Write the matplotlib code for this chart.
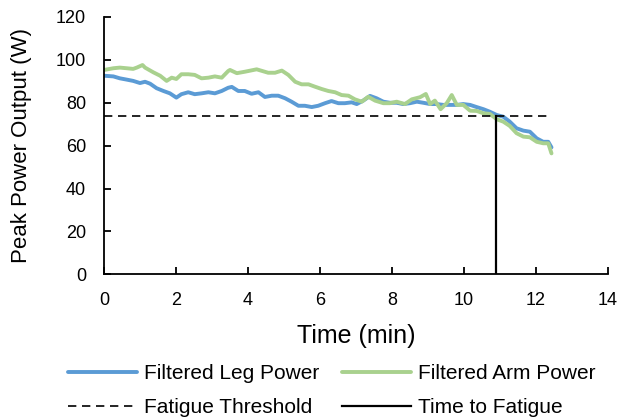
import matplotlib
matplotlib.use("Agg")
import matplotlib.pyplot as plt

plt.rcParams['font.family'] = ['Liberation Sans', 'DejaVu Sans']

leg_t = [0, 0.26, 0.44, 0.63, 0.81, 1.0, 1.14, 1.28, 1.46, 1.65, 1.83, 2.01, 2.15, 2.34,
         2.52, 2.71, 2.9, 3.08, 3.27, 3.45, 3.55, 3.73, 3.91, 4.1, 4.29, 4.47, 4.66, 4.84,
         5.03, 5.21, 5.4, 5.58, 5.77, 5.95, 6.14, 6.32, 6.51, 6.69, 6.88, 7.02, 7.2, 7.39,
         7.57, 7.76, 7.94, 8.13, 8.31, 8.5, 8.69, 8.87, 9.06, 9.24, 9.43, 9.61, 9.8, 9.98,
         10.17, 10.35, 10.54, 10.72, 10.91, 11.09, 11.27, 11.46, 11.65, 11.83, 12.02, 12.2,
         12.34, 12.43]
leg_power = [92.6, 92.3, 91.4, 90.8, 90.2, 89.2, 89.8, 88.9, 86.8, 85.5, 84.4, 82.4, 84.0, 84.9,
             84.0, 84.4, 84.9, 84.4, 85.5, 87.0, 87.4, 85.5, 85.5, 84.2, 84.9, 82.7, 83.3, 83.3,
             82.1, 80.5, 78.6, 78.6, 78.0, 78.6, 79.8, 80.8, 79.8, 79.8, 80.2, 79.4, 81.0, 83.2,
             82.1, 80.5, 80.0, 80.0, 79.4, 79.8, 80.5, 80.0, 79.4, 79.4, 79.0, 79.0, 79.0, 79.4,
             79.0, 78.0, 77.0, 75.8, 74.3, 73.5, 71.2, 68.1, 67.0, 66.5, 63.4, 61.8,
             61.8, 59.2]

arm_t = [0, 0.26, 0.44, 0.63, 0.81, 0.91, 1.07, 1.14, 1.37, 1.56, 1.74, 1.88, 2.01, 2.15,
         2.34, 2.52, 2.71, 2.9, 3.08, 3.27, 3.45, 3.5, 3.69, 3.92, 4.24, 4.56, 4.75, 4.94,
         5.12, 5.31, 5.49, 5.68, 5.86, 6.05, 6.23, 6.42, 6.6, 6.79, 6.97, 7.16, 7.34, 7.53,
         7.76, 7.94, 8.13, 8.36, 8.55, 8.78, 8.94, 9.06, 9.19, 9.35, 9.52, 9.66, 9.8, 9.98,
         10.17, 10.35, 10.54, 10.72, 10.91, 11.09, 11.27, 11.46, 11.65, 11.83, 12.02, 12.2,
         12.34, 12.43]
arm_power = [95.3, 96.1, 96.4, 96.1, 95.8, 96.4, 97.6, 96.4, 94.2, 92.6, 90.2, 91.7, 91.1, 93.3,
             93.3, 93.0, 91.4, 91.7, 92.3, 91.7, 94.8, 95.3, 93.8, 94.5, 95.6, 94.0, 94.0, 95.0,
             93.0, 89.8, 88.6, 88.6, 87.5, 86.4, 85.5, 84.9, 83.6, 83.3, 81.6, 80.5, 82.8, 81.0,
             79.8, 79.8, 80.5, 79.4, 81.6, 82.6, 84.1, 79.4, 81.0, 77.0, 79.8, 83.6, 79.0, 79.0,
             76.3, 76.2, 75.1, 74.8, 72.3, 71.2, 69.2, 65.8, 64.2, 63.9, 61.8, 61.1,
             61.1, 56.4]

threshold = 74
threshold_t = [0, 12.3]
fatigue_time = 10.88

x_ticks = [0, 2, 4, 6, 8, 10, 12, 14]
y_ticks = [0, 20, 40, 60, 80, 100, 120]

blue = '#5B9BD5'
green = '#A9D18E'

fig = plt.figure(figsize=(6.26, 4.19), dpi=100)
ax = fig.add_axes([104/626, 1-274.3/419, 504/626, 257.3/419])

l1, = ax.plot(leg_t, leg_power, color=blue, lw=2.8, label='Filtered Leg Power', solid_capstyle='round')
l2, = ax.plot(arm_t, arm_power, color=green, lw=2.8, label='Filtered Arm Power', solid_capstyle='round')
l3, = ax.plot(threshold_t, [threshold, threshold], color='black', lw=1.2, linestyle=(0, (5, 3.4)),
              label='Fatigue Threshold')
l4, = ax.plot([fatigue_time, fatigue_time], [0, threshold], color='black', lw=1.6,
              label='Time to Fatigue')

ax.set_xlim(0, 14)
ax.set_ylim(0, 120)
ax.set_xticks(x_ticks)
ax.set_yticks(y_ticks)
ax.tick_params(direction='in', length=5, width=1.3, labelsize=13, pad=13)
for s in ['top', 'right']:
    ax.spines[s].set_visible(False)
for s in ['left', 'bottom']:
    ax.spines[s].set_linewidth(1.3)

ax.set_xlabel('Time (min)', fontsize=18)
ax.set_ylabel('Peak Power Output (W)', fontsize=16)
ax.xaxis.set_label_coords(0.5, (274.3-336)/257.3)
ax.xaxis.label.set_va('center')
ax.yaxis.set_label_coords((22-104)/504, 0.5)
ax.yaxis.label.set_va('center')

fig.legend(handles=[l1, l3, l2, l4], ncol=2, loc='center', bbox_to_anchor=(0.53, 0.068),
           frameon=False, fontsize=15, handlelength=3.3, handletextpad=0.35,
           columnspacing=1.1, labelspacing=0.7)

fig.savefig('out.png', dpi=100)
